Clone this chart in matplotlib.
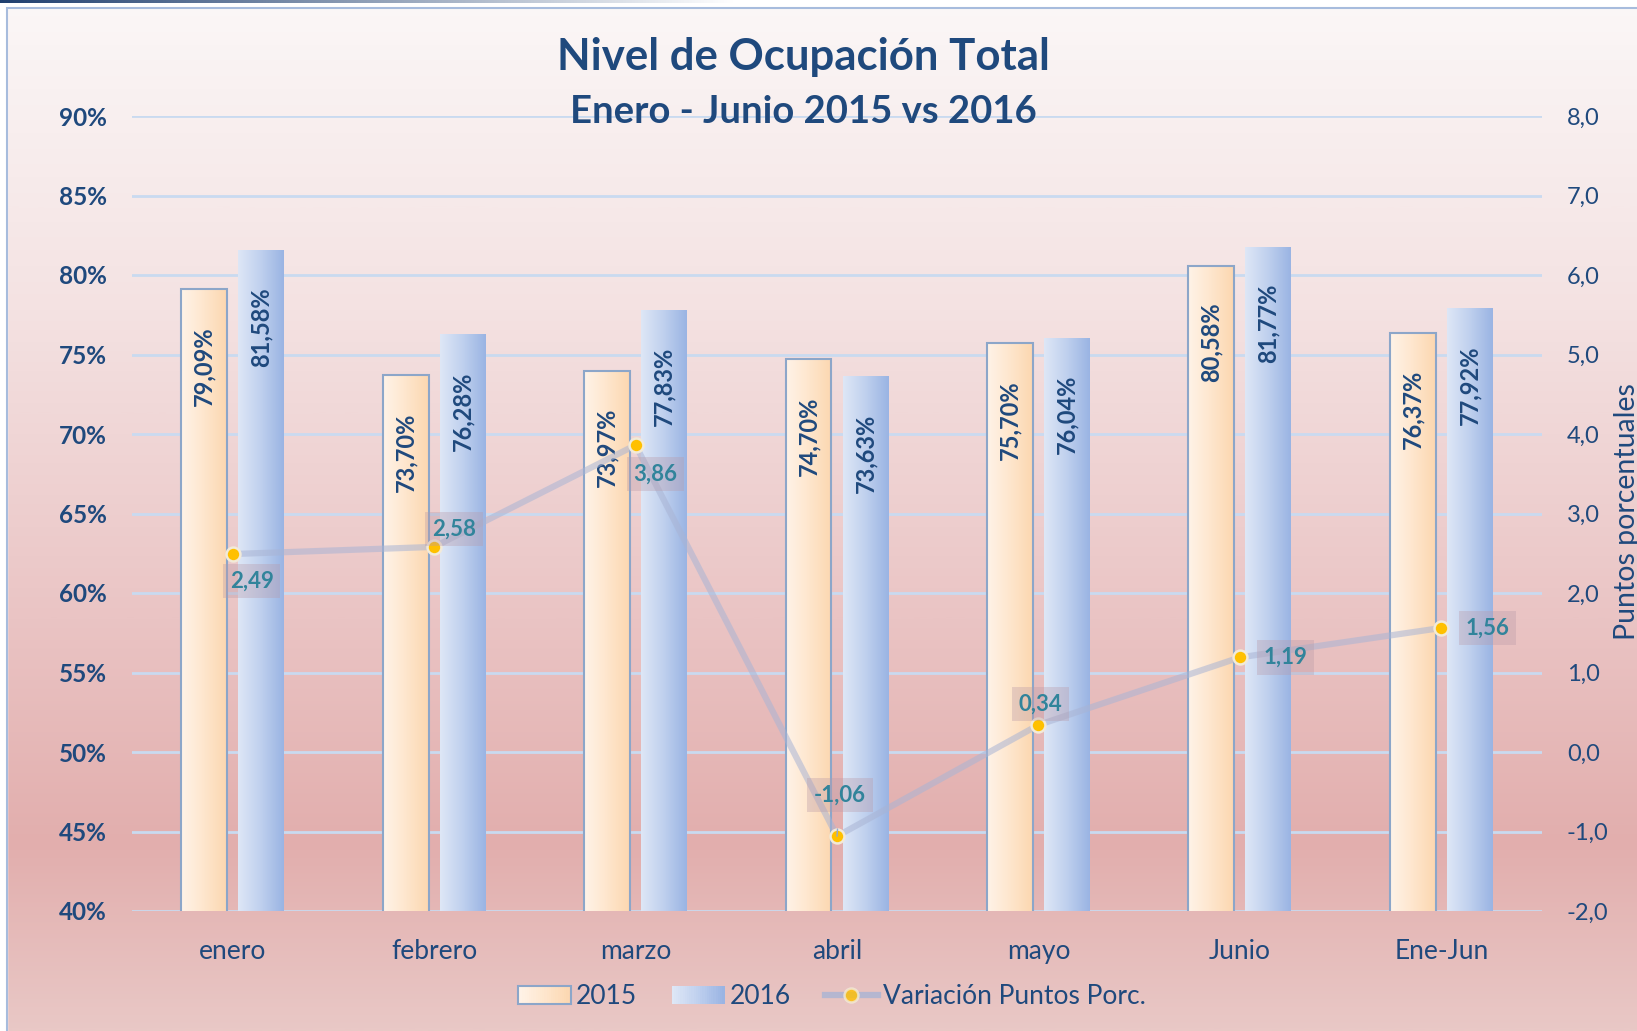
import numpy as np
import matplotlib
matplotlib.use("Agg")
import matplotlib.pyplot as plt
from matplotlib.colors import LinearSegmentedColormap, to_rgb
from matplotlib.patches import Patch, Rectangle
from matplotlib.lines import Line2D
from matplotlib.legend_handler import HandlerBase

plt.rcParams['font.family'] = ['Lato', 'DejaVu Sans']

# datos
meses = ['enero', 'febrero', 'marzo', 'abril', 'mayo', 'Junio', 'Ene-Jun']
ocup_2015 = [79.09, 73.70, 73.97, 74.70, 75.70, 80.58, 76.37]
ocup_2016 = [81.58, 76.28, 77.83, 73.63, 76.04, 81.77, 77.92]
variacion = [2.49, 2.58, 3.86, -1.06, 0.34, 1.19, 1.56]

# donde va cada etiqueta de la variacion (pixeles respecto al punto)
lbl_off = [(19, -27), (20, 18), (20, -29), (3, 41), (2, 21), (46, 0), (46, 0)]

azul = '#1F497D'
teal = '#31849B'
col_2015 = ['#FFF3E8', '#FEE6CD', '#FCD7B0']
col_2016 = ['#DEE7F6', '#BFD0EE', '#9AB4E3']
borde_2015 = '#8CA6C9'

W, H = 1637, 1031
fig = plt.figure(figsize=(W / 100, H / 100), dpi=100)

# fondo degradado
bg = fig.add_axes([0, 0, 1, 1], zorder=-10)
bg_cmap = LinearSegmentedColormap.from_list('bg', [
    (0.0, '#FBF7F7'), (0.3, '#F4E2E2'), (0.6, '#EAC4C4'),
    (0.82, '#E2AEAD'), (1.0, '#E9C8C6')])
grad = np.linspace(0, 1, 512).reshape(-1, 1)
bg.imshow(grad, cmap=bg_cmap, aspect='auto', extent=[0, 1, 0, 1], origin='upper')
bg.add_patch(Rectangle((0, 1 - 8 / H), 1, 8 / H, color='white', zorder=2))
bg.add_patch(Rectangle((0, 0), 7 / W, 1, color='white', zorder=2))
strip = np.zeros((1, 256, 4))
strip[..., :3] = to_rgb('#1F3F6F')
strip[..., 3] = np.linspace(1, 0, 256)
bg.imshow(strip, aspect='auto', extent=[0, 0.45, 1 - 3 / H, 1], zorder=3)
bg.add_patch(Rectangle((7 / W, -0.01), 1.0, 1.01 - 8 / H, fill=False,
                       edgecolor='#A7BCDD', linewidth=1.5, zorder=4))
bg.set_xlim(0, 1)
bg.set_ylim(0, 1)
bg.axis('off')

# barras
ax = fig.add_axes([132 / W, 120 / H, 1410 / W, 795 / H])
ax.patch.set_alpha(0)
x = np.arange(len(meses))
off = 0.1415
bw = 0.228
b1 = ax.bar(x - off, ocup_2015, width=bw, facecolor='none', edgecolor=borde_2015,
            linewidth=1.5, zorder=3)
b2 = ax.bar(x + off, ocup_2016, width=bw, facecolor='none', edgecolor='none', zorder=3)
ax.set_xlim(-0.5, 6.5)
ax.set_ylim(40, 90)


def fill_gradient(bars, colors):
    cm = LinearSegmentedColormap.from_list('g', colors)
    g = np.linspace(0, 1, 128).reshape(1, -1)
    y0 = ax.get_ylim()[0]
    for b in bars:
        x0 = b.get_x()
        im = ax.imshow(g, cmap=cm, aspect='auto', zorder=2.5,
                       extent=[x0, x0 + b.get_width(), y0, b.get_height()])
        im.set_clip_path(b)


fill_gradient(b1, col_2015)
fill_gradient(b2, col_2016)

ax.set_xlim(-0.5, 6.5)
ax.set_ylim(40, 90)
ax.set_yticks(np.arange(40, 91, 5))
ax.set_yticklabels([f"{int(v)}%" for v in np.arange(40, 91, 5)])
ax.set_xticks(x)
ax.set_xticklabels(meses)
ax.yaxis.grid(True, color='#C9DAF0', linewidth=2)
ax.set_axisbelow(True)
for s in ax.spines.values():
    s.set_visible(False)
ax.tick_params(axis='y', length=0, pad=18, labelsize=17.5, labelcolor=azul)
ax.tick_params(axis='x', length=0, pad=20, labelsize=19, labelcolor=azul)
for t in ax.get_yticklabels():
    t.set_fontweight('bold')

for bars, vals in ((b1, ocup_2015), (b2, ocup_2016)):
    for b, v in zip(bars, vals):
        ax.annotate(f"{v:.2f}%".replace('.', ','),
                    xy=(b.get_x() + b.get_width() / 2, v), xytext=(0, -37),
                    textcoords='offset pixels', rotation=90, ha='center', va='top',
                    fontsize=17, fontweight='bold', color=azul, zorder=4)

# linea de variacion
ax2 = ax.twinx()
ax2.set_ylim(-2, 8)
ax2.set_yticks(np.arange(-2, 9, 1))
ax2.set_yticklabels([f"{v:.1f}".replace('.', ',') for v in np.arange(-2, 9, 1)])
for s in ax2.spines.values():
    s.set_visible(False)
ax2.tick_params(axis='y', length=0, pad=18, labelsize=17, labelcolor=azul)

ax2.plot(x, variacion, color='#A9B4D4', alpha=0.55, linewidth=4.5,
         solid_capstyle='round', zorder=3)
ax2.plot(x, variacion, 'o', ms=10, mfc='#FFC000', mec='#F2EAD8', mew=1.8, zorder=4)

for i, (xi, v) in enumerate(zip(x, variacion)):
    dx, dy = lbl_off[i]
    arrow = dict(arrowstyle='-', color='#8FA8D8', lw=1, shrinkA=12, shrinkB=6) if dy > 30 else None
    ax2.annotate(f"{v:.2f}".replace('.', ','), xy=(xi, v), xytext=(dx, dy),
                 textcoords='offset pixels', ha='center', va='center',
                 fontsize=16, fontweight='bold', color=teal, zorder=5,
                 arrowprops=arrow,
                 bbox=dict(boxstyle='square,pad=0.3', fc='#B99AA8', ec='none', alpha=0.35))

# titulos
fig.text(803 / W, 1 - 57 / H, 'Nivel de Ocupación Total', ha='center', va='center',
         fontsize=31.5, fontweight='bold', color=azul)
fig.text(803 / W, 1 - 112 / H, 'Enero - Junio 2015 vs 2016', ha='center', va='center',
         fontsize=27.5, fontweight='bold', color=azul)
fig.text(1614 / W, 1 - 512 / H, 'Puntos porcentuales', rotation=90, ha='left',
         va='center', fontsize=20.5, color=azul)


# leyenda con degradado en los cuadritos
class HandlerGrad(HandlerBase):
    def __init__(self, colors, edge=None):
        super().__init__()
        self.cm = LinearSegmentedColormap.from_list('h', colors)
        self.edge = edge

    def create_artists(self, legend, orig_handle, xdescent, ydescent, width, height,
                       fontsize, trans):
        n = 24
        arts = []
        for k in range(n):
            r = Rectangle((-xdescent + width * k / n, -ydescent), width / n + 0.3, height,
                          facecolor=self.cm(k / (n - 1)), edgecolor='none',
                          transform=trans)
            arts.append(r)
        if self.edge:
            arts.append(Rectangle((-xdescent, -ydescent), width, height, fill=False,
                                  edgecolor=self.edge, linewidth=1.5, transform=trans))
        return arts


h2015 = Patch(facecolor=col_2015[1])
h2016 = Patch(facecolor=col_2016[1])
hvar = Line2D([], [], color='#A9B4D4', alpha=0.8, linewidth=4.5, marker='o', ms=10,
              mfc='#FFC000', mec='#F2EAD8', mew=1.8)
leg = fig.legend([h2015, h2016, hvar], ['2015', '2016', 'Variación Puntos Porc.'],
                 loc='center', bbox_to_anchor=(832 / W, 34 / H), ncol=3, frameon=False,
                 fontsize=19, handlelength=2.0, handleheight=0.65,
                 handletextpad=0.2, columnspacing=1.3,
                 handler_map={h2015: HandlerGrad(col_2015, borde_2015),
                              h2016: HandlerGrad(col_2016)})
for t in leg.get_texts():
    t.set_color(azul)

fig.savefig('out.png', dpi=100)
